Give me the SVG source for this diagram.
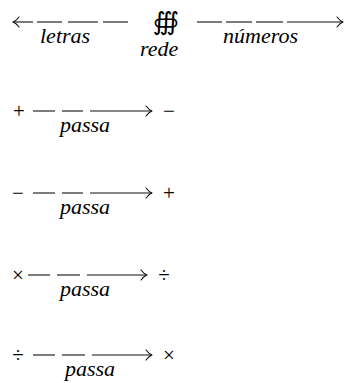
<svg xmlns="http://www.w3.org/2000/svg" width="347" height="383" viewBox="0 0 347 383">
<style>
.lbl{font-family:"Liberation Serif","Times New Roman",serif;font-style:italic;font-size:22px;fill:#000;}
.sym{font-family:"Liberation Serif","Times New Roman",serif;font-size:21px;fill:#000;text-anchor:middle;}
.ln{stroke:#111;stroke-width:1.1;fill:none;}
.hd{stroke:#111;stroke-width:1.1;fill:none;stroke-linecap:round;stroke-linejoin:round;}
</style>
<defs>
<path id="headR" class="hd" d="M-6,-5 Q-3,-1 0,0 Q-3,1 -6,5"/>
</defs>
<g id="connectors">
<g>
<line class="ln" x1="13" y1="22" x2="33" y2="22"/>
<use href="#headR" transform="translate(13,22) scale(-1,1)"/>
<line class="ln" x1="37" y1="22" x2="62" y2="22"/>
<line class="ln" x1="68" y1="22" x2="98" y2="22"/>
<line class="ln" x1="103" y1="22" x2="128" y2="22"/>
</g>
<g>
<line class="ln" x1="197" y1="22" x2="222" y2="22"/>
<line class="ln" x1="226" y1="22" x2="252" y2="22"/>
<line class="ln" x1="256" y1="22" x2="283" y2="22"/>
<line class="ln" x1="287" y1="22" x2="343" y2="22"/>
<use href="#headR" transform="translate(343,22)"/>
</g>
<g>
<line class="ln" x1="33" y1="111" x2="55" y2="111"/>
<line class="ln" x1="62" y1="111" x2="83" y2="111"/>
<line class="ln" x1="90" y1="111" x2="152" y2="111"/>
<use href="#headR" transform="translate(152,111)"/>
</g>
<g>
<line class="ln" x1="33" y1="193" x2="55" y2="193"/>
<line class="ln" x1="62" y1="193" x2="83" y2="193"/>
<line class="ln" x1="90" y1="193" x2="152" y2="193"/>
<use href="#headR" transform="translate(152,193)"/>
</g>
<g>
<line class="ln" x1="28" y1="275" x2="50" y2="275"/>
<line class="ln" x1="57" y1="275" x2="80" y2="275"/>
<line class="ln" x1="87" y1="275" x2="147" y2="275"/>
<use href="#headR" transform="translate(147,275)"/>
</g>
<g>
<line class="ln" x1="33" y1="355" x2="55" y2="355"/>
<line class="ln" x1="62" y1="355" x2="85" y2="355"/>
<line class="ln" x1="92" y1="355" x2="152" y2="355"/>
<use href="#headR" transform="translate(152,355)"/>
</g>
</g>
<g id="node-letras"><text class="lbl" x="40" y="43">letras</text></g>
<g id="node-rede">
<text x="166" y="30" style="font-family:'DejaVu Sans',sans-serif;font-size:25px;text-anchor:middle;fill:#000">∰</text>
<text class="lbl" x="140" y="56">rede</text>
</g>
<g id="node-numeros"><text class="lbl" x="223" y="43">números</text></g>
<g id="row-plus">
<text class="sym" x="19" y="118">+</text>
<text class="sym" x="169" y="118">−</text>
<text class="lbl" x="60" y="132">passa</text>
</g>
<g id="row-minus">
<text class="sym" x="18" y="200">−</text>
<text class="sym" x="169" y="200">+</text>
<text class="lbl" x="60" y="214">passa</text>
</g>
<g id="row-times">
<text class="sym" x="18" y="282">×</text>
<text class="sym" x="164" y="282">÷</text>
<text class="lbl" x="60" y="296">passa</text>
</g>
<g id="row-div">
<text class="sym" x="18" y="362">÷</text>
<text class="sym" x="169" y="362">×</text>
<text class="lbl" x="65" y="376">passa</text>
</g>
</svg>
